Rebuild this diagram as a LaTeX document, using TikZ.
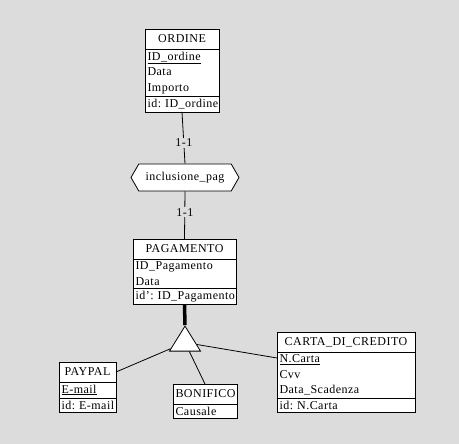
\documentclass[tikz,border=0pt]{standalone}
\usepackage{fontspec}
\setmainfont[LetterSpace=4]{Liberation Serif}
\usetikzlibrary{shapes.geometric,shapes.symbols}
\definecolor{bg}{RGB}{220,220,220}
\newcommand{\erfont}{\fontsize{12}{15.5}\selectfont\frenchspacing\hyphenpenalty=10000\exhyphenpenalty=10000}
\tikzset{
	ent/.style = {draw, fill=white, inner xsep=2.5pt, inner ysep=2.8pt, outer sep=0pt, font=\erfont, align=left, anchor=north west},
	enthead/.style = {ent, align=center, inner ysep=2pt, minimum height=20pt},
	rel/.style = {draw, fill=white, signal, signal to=east and west, signal pointer angle=120, minimum width=108pt, minimum height=27pt, inner sep=0pt, font=\erfont},
	isa/.style = {draw, fill=white, isosceles triangle, isosceles triangle stretches, shape border rotate=90, minimum width=31pt, minimum height=25pt, inner sep=0pt},
	card/.style = {fill=bg, inner sep=1pt, font=\erfont}
}
\begin{document}
\begin{tikzpicture}[x = 1pt, y = -1pt, line width = .8pt]
	\fill[bg] (0,0) rectangle (459,444);
	\useasboundingbox (0,0) rectangle (459,444);
	\node[enthead, text width=69pt] (ord) at (145,29) {ORDINE};
	\node[ent, text width=69pt] (ord-a) at (ord.south west) {\underline{ID\_ordine}\\Data\\Importo};
	\node[ent, text width=69pt] (ord-i) at (ord-a.south west) {id:~ID\_ordine};
	\node[rel] (inc) at (185,177.5) {inclusione\_pag};
	\node[enthead, text width=98pt] (pag) at (133,239) {PAGAMENTO};
	\node[ent, text width=98pt] (pag-a) at (pag.south west) {ID\_Pagamento\\Data};
	\node[ent, text width=98pt] (pag-i) at (pag-a.south west) {id':~ID\_Pagamento};
	\node[isa] (tri) at (185,342.5) {};
	\node[enthead, text width=52pt] (pay) at (59,362) {PAYPAL};
	\node[ent, text width=52pt] (pay-a) at (pay.south west) {\underline{E-mail}};
	\node[ent, text width=52pt] (pay-i) at (pay-a.south west) {id:~E-mail};
	\node[enthead, text width=59pt] (bon) at (173,384) {BONIFICO};
	\node[ent, text width=59pt] (bon-a) at (bon.south west) {Causale};
	\node[enthead, text width=133pt] (car) at (277,332) {CARTA\_DI\_CREDITO};
	\node[ent, text width=133pt] (car-a) at (car.south west) {\underline{N.Carta}\\Cvv\\Data\_Scadenza};
	\node[ent, text width=133pt] (car-i) at (car-a.south west) {id:~N.Carta};
	\draw (ord-i.south) -- (inc.north) node[card, pos=.6] {1-1};
	\draw (inc.south) -- (pag.north) node[card, pos=.44] {1-1};
	\draw[line width=3.5pt] (pag-i.south) -- (tri.apex);
	\draw (pay.east) -- (tri);
	\draw (bon.north) -- (tri);
	\draw ([yshift=-6pt]car-a.north west) -- (tri);
\end{tikzpicture}
\end{document}
